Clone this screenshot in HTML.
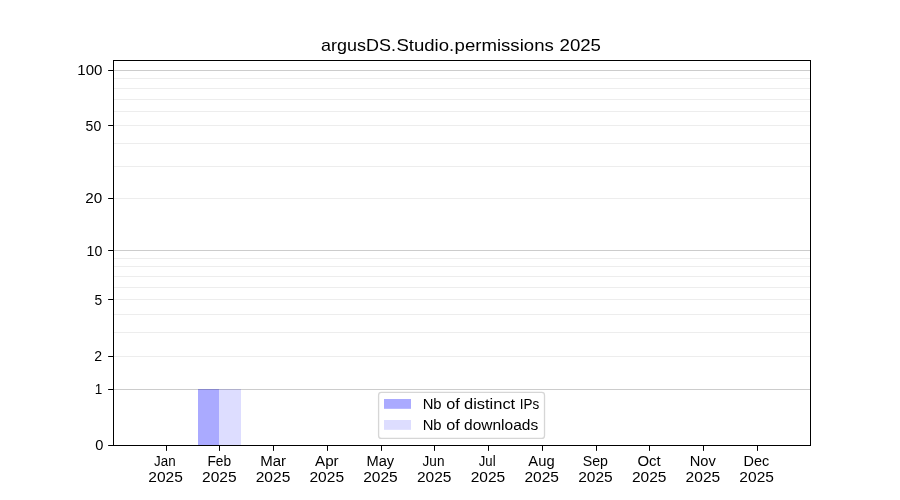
<!DOCTYPE html>
<html lang="en">
<head>
<meta charset="utf-8">
<title>argusDS.Studio.permissions 2025</title>
<style>
html,body{margin:0;padding:0;background:#ffffff;}
body{width:900px;height:500px;overflow:hidden;}
svg{display:block;}
text{font-family:"Liberation Sans",sans-serif;fill:#000000;white-space:pre;}
.t{font-size:14.15px;}
.h{font-size:17.0px;}
</style>
</head>
<body>
<svg width="900" height="500" viewBox="0 0 900 500">
<defs><filter id="ga" x="0" y="0" width="900" height="500" filterUnits="userSpaceOnUse" color-interpolation-filters="sRGB"><feOffset dx="0" dy="0"/></filter></defs>
<rect x="0" y="0" width="900" height="500" fill="#ffffff"/>
<g shape-rendering="crispEdges">
<rect x="198" y="389" width="21" height="56" fill="#aaaaff"/>
<rect x="219" y="389" width="22" height="56" fill="#ddddff"/>
</g>
<g shape-rendering="crispEdges" fill="#000000">
<rect x="114" y="389" width="696" height="1" fill-opacity="0.2"/>
<rect x="114" y="250" width="696" height="1" fill-opacity="0.2"/>
<rect x="114" y="70" width="696" height="1" fill-opacity="0.2"/>
<rect x="114" y="356" width="696" height="1" fill-opacity="0.07"/>
<rect x="114" y="332" width="696" height="1" fill-opacity="0.07"/>
<rect x="114" y="314" width="696" height="1" fill-opacity="0.07"/>
<rect x="114" y="299" width="696" height="1" fill-opacity="0.07"/>
<rect x="114" y="287" width="696" height="1" fill-opacity="0.07"/>
<rect x="114" y="276" width="696" height="1" fill-opacity="0.07"/>
<rect x="114" y="266" width="696" height="1" fill-opacity="0.07"/>
<rect x="114" y="258" width="696" height="1" fill-opacity="0.07"/>
<rect x="114" y="198" width="696" height="1" fill-opacity="0.07"/>
<rect x="114" y="166" width="696" height="1" fill-opacity="0.07"/>
<rect x="114" y="143" width="696" height="1" fill-opacity="0.07"/>
<rect x="114" y="125" width="696" height="1" fill-opacity="0.07"/>
<rect x="114" y="111" width="696" height="1" fill-opacity="0.07"/>
<rect x="114" y="99" width="696" height="1" fill-opacity="0.07"/>
<rect x="114" y="88" width="696" height="1" fill-opacity="0.07"/>
<rect x="114" y="78" width="696" height="1" fill-opacity="0.07"/>
</g>
<g shape-rendering="crispEdges" fill="#000000">
<rect x="108.14" y="445" width="4.86" height="1" shape-rendering="geometricPrecision"/>
<rect x="108.14" y="389" width="4.86" height="1" shape-rendering="geometricPrecision"/>
<rect x="108.14" y="356" width="4.86" height="1" shape-rendering="geometricPrecision"/>
<rect x="108.14" y="299" width="4.86" height="1" shape-rendering="geometricPrecision"/>
<rect x="108.14" y="250" width="4.86" height="1" shape-rendering="geometricPrecision"/>
<rect x="108.14" y="198" width="4.86" height="1" shape-rendering="geometricPrecision"/>
<rect x="108.14" y="125" width="4.86" height="1" shape-rendering="geometricPrecision"/>
<rect x="108.14" y="70" width="4.86" height="1" shape-rendering="geometricPrecision"/>
<rect x="166" y="446" width="1" height="4.86" shape-rendering="geometricPrecision"/>
<rect x="219" y="446" width="1" height="4.86" shape-rendering="geometricPrecision"/>
<rect x="273" y="446" width="1" height="4.86" shape-rendering="geometricPrecision"/>
<rect x="327" y="446" width="1" height="4.86" shape-rendering="geometricPrecision"/>
<rect x="381" y="446" width="1" height="4.86" shape-rendering="geometricPrecision"/>
<rect x="434" y="446" width="1" height="4.86" shape-rendering="geometricPrecision"/>
<rect x="488" y="446" width="1" height="4.86" shape-rendering="geometricPrecision"/>
<rect x="542" y="446" width="1" height="4.86" shape-rendering="geometricPrecision"/>
<rect x="596" y="446" width="1" height="4.86" shape-rendering="geometricPrecision"/>
<rect x="649" y="446" width="1" height="4.86" shape-rendering="geometricPrecision"/>
<rect x="703" y="446" width="1" height="4.86" shape-rendering="geometricPrecision"/>
<rect x="757" y="446" width="1" height="4.86" shape-rendering="geometricPrecision"/>
<rect x="113" y="60" width="1" height="386"/>
<rect x="810" y="60" width="1" height="386"/>
<rect x="113" y="60" width="698" height="1"/>
<rect x="113" y="445" width="698" height="1"/>
</g>
<rect x="378.6" y="392.45" width="165.9" height="46.0" rx="2.78" ry="2.78" fill="#ffffff" fill-opacity="0.8" stroke="#cccccc" stroke-opacity="0.8" stroke-width="1.3"/>
<rect x="384" y="399" width="27" height="9.8" fill="#aaaaff"/>
<rect x="384" y="420" width="27" height="9.8" fill="#ddddff"/>
<g filter="url(#ga)">
<text class="h" y="51.00" xml:space="preserve"><tspan x="321.09" textLength="74.90" lengthAdjust="spacingAndGlyphs">argusDS.</tspan><tspan x="396.40" textLength="57.73" lengthAdjust="spacingAndGlyphs">Studio.</tspan><tspan x="454.57" textLength="104.40" lengthAdjust="spacingAndGlyphs">permissions </tspan><tspan x="559.53" textLength="41.48" lengthAdjust="spacingAndGlyphs">2025</tspan></text>
<text class="t" x="95.29" y="450.00" textLength="8.14" lengthAdjust="spacingAndGlyphs">0</text>
<text class="t" x="94.64" y="394.00" textLength="7.52" lengthAdjust="spacingAndGlyphs">1</text>
<text class="t" x="94.25" y="361.00" textLength="7.84" lengthAdjust="spacingAndGlyphs">2</text>
<text class="t" x="94.46" y="305.00" textLength="7.69" lengthAdjust="spacingAndGlyphs">5</text>
<text class="t" x="86.56" y="256.00" textLength="15.76" lengthAdjust="spacingAndGlyphs">10</text>
<text class="t" x="85.36" y="203.00" textLength="16.95" lengthAdjust="spacingAndGlyphs">20</text>
<text class="t" x="85.62" y="131.00" textLength="15.59" lengthAdjust="spacingAndGlyphs">50</text>
<text class="t" x="77.35" y="75.00" textLength="25.09" lengthAdjust="spacingAndGlyphs">100</text>
<text class="t" x="154.06" y="466.10" textLength="21.55" lengthAdjust="spacingAndGlyphs">Jan</text>
<text class="t" x="148.26" y="481.60" textLength="34.56" lengthAdjust="spacingAndGlyphs">2025</text>
<text class="t" x="207.38" y="466.10" textLength="23.68" lengthAdjust="spacingAndGlyphs">Feb</text>
<text class="t" x="202.00" y="481.60" textLength="34.56" lengthAdjust="spacingAndGlyphs">2025</text>
<text class="t" x="260.20" y="466.10" textLength="25.84" lengthAdjust="spacingAndGlyphs">Mar</text>
<text class="t" x="255.74" y="481.60" textLength="34.56" lengthAdjust="spacingAndGlyphs">2025</text>
<text class="t" x="314.98" y="466.10" textLength="23.71" lengthAdjust="spacingAndGlyphs">Apr</text>
<text class="t" x="309.47" y="481.60" textLength="34.56" lengthAdjust="spacingAndGlyphs">2025</text>
<text class="t" x="366.45" y="466.10" textLength="27.68" lengthAdjust="spacingAndGlyphs">May</text>
<text class="t" x="363.21" y="481.60" textLength="34.56" lengthAdjust="spacingAndGlyphs">2025</text>
<text class="t" x="422.60" y="466.10" textLength="21.85" lengthAdjust="spacingAndGlyphs">Jun</text>
<text class="t" x="416.95" y="481.60" textLength="34.56" lengthAdjust="spacingAndGlyphs">2025</text>
<text class="t" x="478.81" y="466.10" textLength="16.77" lengthAdjust="spacingAndGlyphs">Jul</text>
<text class="t" x="470.69" y="481.60" textLength="34.56" lengthAdjust="spacingAndGlyphs">2025</text>
<text class="t" x="528.38" y="466.10" textLength="26.23" lengthAdjust="spacingAndGlyphs">Aug</text>
<text class="t" x="524.42" y="481.60" textLength="34.56" lengthAdjust="spacingAndGlyphs">2025</text>
<text class="t" x="582.77" y="466.10" textLength="25.25" lengthAdjust="spacingAndGlyphs">Sep</text>
<text class="t" x="578.16" y="481.60" textLength="34.56" lengthAdjust="spacingAndGlyphs">2025</text>
<text class="t" x="637.40" y="466.10" textLength="23.20" lengthAdjust="spacingAndGlyphs">Oct</text>
<text class="t" x="631.90" y="481.60" textLength="34.56" lengthAdjust="spacingAndGlyphs">2025</text>
<text class="t" x="689.67" y="466.10" textLength="26.10" lengthAdjust="spacingAndGlyphs">Nov</text>
<text class="t" x="685.63" y="481.60" textLength="34.56" lengthAdjust="spacingAndGlyphs">2025</text>
<text class="t" x="743.54" y="466.10" textLength="25.72" lengthAdjust="spacingAndGlyphs">Dec</text>
<text class="t" x="739.37" y="481.60" textLength="34.56" lengthAdjust="spacingAndGlyphs">2025</text>
<text class="t" y="409.00" xml:space="preserve"><tspan x="422.65" textLength="23.04" lengthAdjust="spacingAndGlyphs">Nb </tspan><tspan x="446.20" textLength="18.07" lengthAdjust="spacingAndGlyphs">of </tspan><tspan x="464.00" textLength="55.78" lengthAdjust="spacingAndGlyphs">distinct </tspan><tspan x="519.86" textLength="19.44" lengthAdjust="spacingAndGlyphs">IPs</tspan></text>
<text class="t" y="429.60" xml:space="preserve"><tspan x="422.65" textLength="23.04" lengthAdjust="spacingAndGlyphs">Nb </tspan><tspan x="446.20" textLength="18.07" lengthAdjust="spacingAndGlyphs">of </tspan><tspan x="464.04" textLength="74.16" lengthAdjust="spacingAndGlyphs">downloads</tspan></text>
</g>
</svg>
</body>
</html>
